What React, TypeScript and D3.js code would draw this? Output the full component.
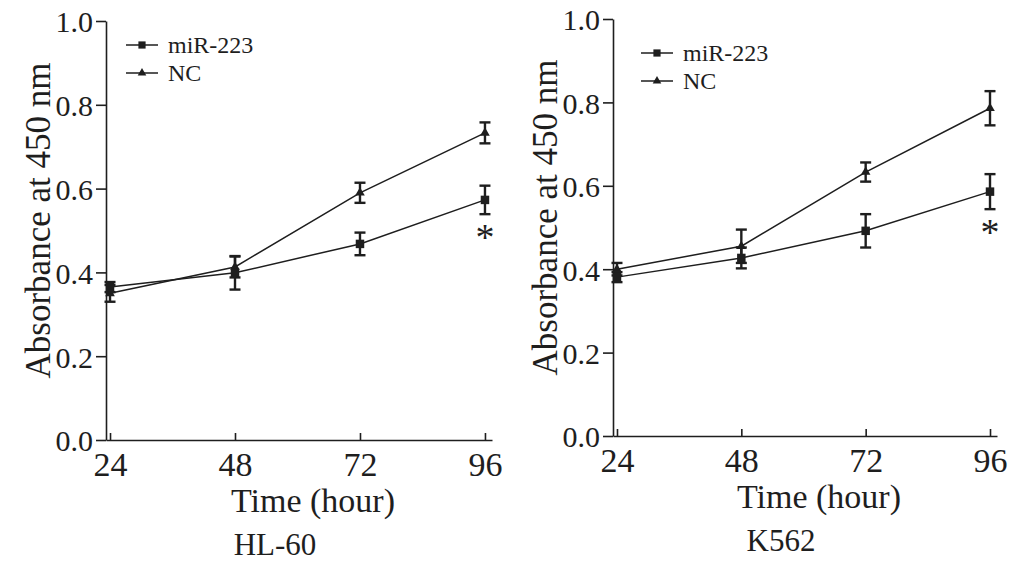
import { useRef, useEffect } from 'react'
import * as d3 from 'd3'

const hours = [24, 48, 72, 96]
const yTicks = [0, 0.2, 0.4, 0.6, 0.8, 1.0]

// HL-60
const hl60Mir = [0.365, 0.399, 0.468, 0.573]
const hl60MirErr = [0.012, 0.04, 0.027, 0.034]
const hl60Nc = [0.35, 0.413, 0.59, 0.733]
const hl60NcErr = [0.02, 0.025, 0.024, 0.025]

// K562
const k562Mir = [0.381, 0.427, 0.492, 0.586]
const k562MirErr = [0.012, 0.025, 0.04, 0.042]
const k562Nc = [0.4, 0.455, 0.633, 0.786]
const k562NcErr = [0.015, 0.04, 0.023, 0.041]

const ink = '#1e1e1e'
const font = '"Liberation Serif", "Times New Roman", serif'

type PanelProps = {
  left: number
  right: number
  top: number
  bottom: number
  mir: number[]
  mirErr: number[]
  nc: number[]
  ncErr: number[]
  name: string
  legendX: number
  legendY: number
}

function Panel(p: PanelProps) {
  const ref = useRef<SVGGElement | null>(null)

  useEffect(() => {
    if (!ref.current) return
    const g = d3.select(ref.current)
    g.selectAll('*').remove()

    const x = d3.scaleLinear().domain([23.23, 97.35]).range([p.left, p.right])
    const y = d3.scaleLinear().domain([0, 1]).range([p.bottom, p.top])

    // y axis
    const ya = g.append('g').attr('transform', `translate(${p.left},0)`)
      .call(d3.axisLeft(y).tickValues(yTicks).tickFormat(d3.format('.1f')).tickSize(10).tickSizeOuter(0).tickPadding(3))
    ya.select('.domain').attr('stroke', ink).attr('stroke-width', 1.6)
    ya.selectAll('line').attr('stroke', ink).attr('stroke-width', 1.6)
    ya.selectAll('text').attr('font-family', font).attr('font-size', 30).attr('fill', ink).attr('dy', '0.36em')

    // x axis (ticks point inward)
    const xa = g.append('g').attr('transform', `translate(0,${p.bottom})`)
      .call(d3.axisBottom(x).tickValues(hours).tickSize(-7).tickSizeOuter(0).tickPadding(12))
    xa.select('.domain').attr('stroke', ink).attr('stroke-width', 1.6)
    xa.selectAll('line').attr('stroke', ink).attr('stroke-width', 1.6)
    xa.selectAll('text').attr('font-family', font).attr('font-size', 34).attr('fill', ink).attr('dy', '0.71em')

    const line = d3.line<number>().x((_, i) => x(hours[i])).y(d => y(d))

    const series = [
      { vals: p.nc, err: p.ncErr, shape: d3.symbolTriangle, size: 40 },
      { vals: p.mir, err: p.mirErr, shape: d3.symbolSquare, size: 72 },
    ]
    series.forEach(s => {
      g.append('path').datum(s.vals).attr('d', line)
        .attr('fill', 'none').attr('stroke', ink).attr('stroke-width', 1.5)
      s.vals.forEach((v, i) => {
        const cx = x(hours[i])
        const e = s.err[i]
        const eb = g.append('g').attr('stroke', ink).attr('stroke-width', 2.4)
        eb.append('line').attr('x1', cx).attr('x2', cx).attr('y1', y(v - e)).attr('y2', y(v + e))
        eb.append('line').attr('x1', cx - 5.5).attr('x2', cx + 5.5).attr('y1', y(v - e)).attr('y2', y(v - e))
        eb.append('line').attr('x1', cx - 5.5).attr('x2', cx + 5.5).attr('y1', y(v + e)).attr('y2', y(v + e))
        g.append('path').attr('d', d3.symbol(s.shape, s.size)())
          .attr('transform', `translate(${cx},${y(v)})`).attr('fill', ink)
      })
    })

    // significance mark
    const last = hours.length - 1
    g.append('text').attr('x', x(hours[last])).attr('y', y(p.mir[last] - p.mirErr[last]) + 36)
      .attr('text-anchor', 'middle').attr('font-family', font).attr('font-size', 38).attr('fill', ink).text('*')

    // legend
    const legend = [
      { label: 'miR-223', shape: d3.symbolSquare, size: 52 },
      { label: 'NC', shape: d3.symbolTriangle, size: 32 },
    ]
    legend.forEach((l, i) => {
      const ly = p.legendY + i * 28
      g.append('line').attr('x1', p.legendX).attr('x2', p.legendX + 32).attr('y1', ly).attr('y2', ly)
        .attr('stroke', ink).attr('stroke-width', 1.5)
      g.append('path').attr('d', d3.symbol(l.shape, l.size)())
        .attr('transform', `translate(${p.legendX + 16},${ly})`).attr('fill', ink)
      g.append('text').attr('x', p.legendX + 42).attr('y', ly + 8)
        .attr('font-family', font).attr('font-size', 24).attr('fill', ink).text(l.label)
    })

    // axis titles
    g.append('text').attr('transform', `translate(${p.left - 56},${(p.top + p.bottom) / 2 - 10}) rotate(-90)`)
      .attr('text-anchor', 'middle').attr('font-family', font).attr('font-size', 35).attr('fill', ink)
      .text('Absorbance at 450 nm')
    g.append('text').attr('x', (p.left + p.right) / 2 + 14).attr('y', p.bottom + 72)
      .attr('text-anchor', 'middle').attr('font-family', font).attr('font-size', 34).attr('fill', ink)
      .text('Time (hour)')
    g.append('text').attr('x', (p.left + p.right) / 2 - 24).attr('y', p.bottom + 115)
      .attr('text-anchor', 'middle').attr('font-family', font).attr('font-size', 31).attr('fill', ink)
      .text(p.name)
  }, [p])

  return <g ref={ref} />
}

export default function App() {
  return (
    <svg width={1033} height={562} viewBox="0 0 1033 562"
      style={{ position: 'absolute', left: 0, top: 0, background: '#fff' }}>
      <rect width={1033} height={562} fill="#fff" />
      <Panel left={106} right={492} top={21} bottom={440}
        mir={hl60Mir} mirErr={hl60MirErr} nc={hl60Nc} ncErr={hl60NcErr}
        name="HL-60" legendX={126} legendY={45} />
      <Panel left={613} right={997} top={19} bottom={436}
        mir={k562Mir} mirErr={k562MirErr} nc={k562Nc} ncErr={k562NcErr}
        name="K562" legendX={641} legendY={53} />
    </svg>
  )
}
